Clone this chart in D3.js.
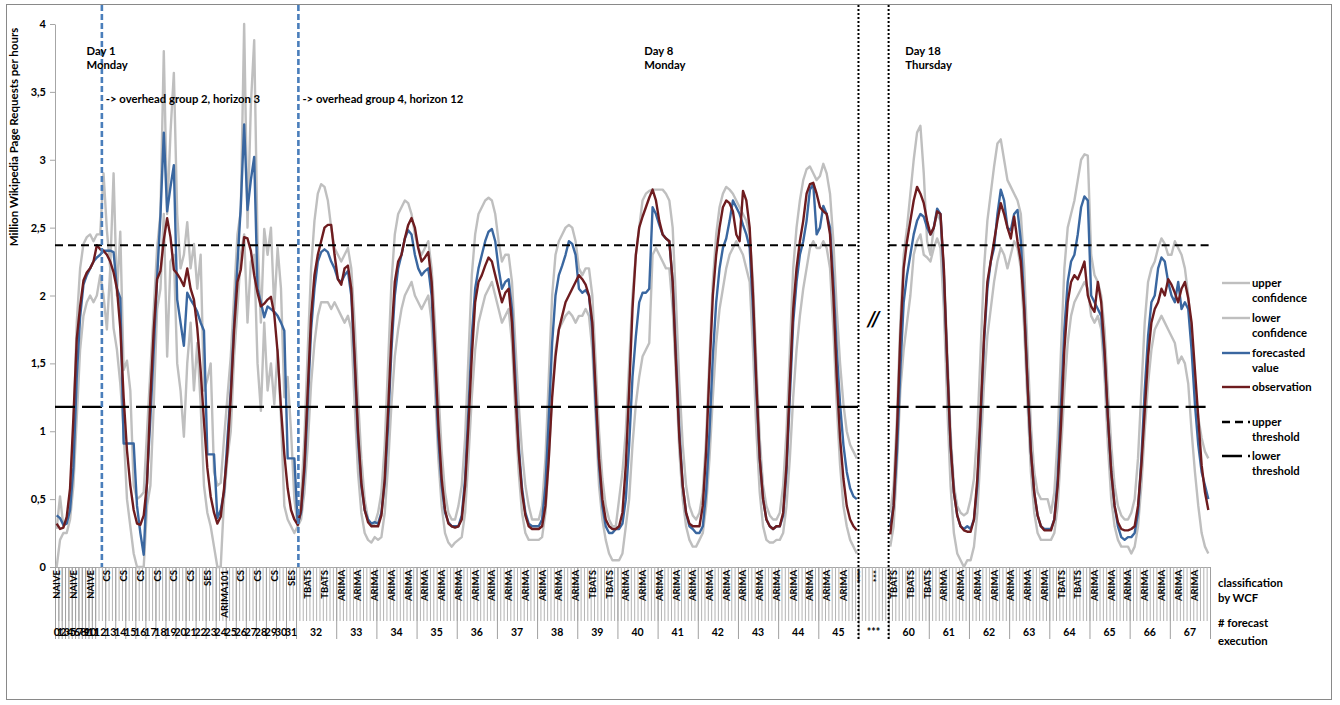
<!DOCTYPE html>
<html>
<head>
<meta charset="utf-8">
<script src="https://cdn.jsdelivr.net/npm/d3@7"></script>
<style>
body { margin: 0; background: #fff; }
svg text { font-family: Lato, "Open Sans", sans-serif; font-weight: bold; fill: #000; }
</style>
</head>
<body>
<svg id="chart" width="1340" height="705"></svg>
<script>
// forecast executions: label, hours covered, classification by WCF
var groupLabels = ['0','1','2','3','4','5','6','7','8','9','10','11',
                   '12','13','14','15','16','17','18','19','20','21','22','23','24','25','26','27','28','29','30','31',
                   '32','33','34','35','36','37','38','39','40','41','42','43','44','45',
                   '***',
                   '60','61','62','63','64','65','66','67'];
var groupSizes = [1,1,1,1,1,1,1,1,1,1,1,1,
                  3,3,3,3,3,3,3,3,3,3,3,3,3,3,3,3,3,3,3,3,
                  12,12,12,12,12,12,12,12,12,12,12,12,12,12,
                  9,
                  12,12,12,12,12,12,12,12];
var groupClass = ['NAIVE','NAIVE','NAIVE','NAIVE','NAIVE','NAIVE','NAIVE','NAIVE','NAIVE','NAIVE','NAIVE','NAIVE',
                  'CS','CS','CS','CS','CS','CS','CS','CS','CS','CS','CS','SES','ARIMA101','CS','CS','CS','CS','CS','CS','SES',
                  'TBATS','ARIMA','ARIMA','ARIMA','ARIMA','ARIMA','ARIMA','TBATS','ARIMA','ARIMA','ARIMA','ARIMA','ARIMA','ARIMA',
                  '***',
                  'TBATS','ARIMA','ARIMA','ARIMA','TBATS','ARIMA','ARIMA','ARIMA'];

var yTicks = [0, 0.5, 1, 1.5, 2, 2.5, 3, 3.5, 4];
var upperThreshold = 2.37;
var lowerThreshold = 1.18;
var gapStart = 240, gapEnd = 249;   // "***" hours without data

// million page requests per hour, one value per hour (null = not shown)
var observation = [
  0.32,0.28,0.29,0.37,0.58,1.1,1.68,1.92,2.11,2.17,2.2,2.25,2.37,2.34,2.33,2.3,2.25,2.17,2.05,1.76,1.25,0.86,0.6,0.42,
  0.32,0.31,0.38,0.62,1.25,1.75,2.12,2.18,2.41,2.57,2.43,2.19,2.16,2.12,2.07,2.2,2.05,1.97,1.76,1.45,1.07,0.73,0.52,0.4,
  0.32,0.37,0.58,0.85,1.25,1.75,2.1,2.19,2.43,2.42,2.33,2.15,2.02,1.92,1.94,1.97,1.99,1.86,1.58,1.17,0.83,0.58,0.42,0.35,
  0.31,0.42,0.75,1.3,1.85,2.15,2.3,2.4,2.5,2.52,2.52,2.3,2.12,2.08,2.2,2.22,2.05,1.55,1.0,0.62,0.42,0.33,0.3,0.3,
  0.3,0.38,0.65,1.15,1.7,2.1,2.25,2.3,2.42,2.52,2.57,2.5,2.35,2.25,2.28,2.32,2.1,1.6,1.05,0.65,0.42,0.32,0.3,0.29,
  0.3,0.35,0.6,1.05,1.55,1.95,2.1,2.15,2.22,2.28,2.25,2.15,2.05,1.95,2.02,2.05,1.8,1.3,0.85,0.55,0.38,0.3,0.28,0.28,
  0.28,0.3,0.45,0.8,1.25,1.55,1.75,1.85,1.95,2.0,2.05,2.1,2.15,2.12,2.08,2.0,1.8,1.3,0.8,0.5,0.35,0.3,0.28,0.28,
  0.3,0.4,0.75,1.3,1.9,2.3,2.5,2.58,2.65,2.72,2.78,2.7,2.55,2.45,2.42,2.4,2.1,1.5,0.95,0.6,0.4,0.32,0.3,0.3,
  0.3,0.45,0.85,1.45,2.0,2.3,2.5,2.65,2.7,2.68,2.62,2.45,2.4,2.77,2.7,2.5,2.0,1.35,0.8,0.5,0.35,0.3,0.28,0.3,
  0.3,0.4,0.75,1.35,1.9,2.2,2.4,2.55,2.75,2.82,2.83,2.75,2.65,2.62,2.6,2.45,2.0,1.4,0.95,0.65,0.45,0.35,0.3,0.27,
  null,null,null,null,null,null,null,null,null,
  0.24,0.45,1.0,1.7,2.2,2.4,2.55,2.7,2.8,2.75,2.68,2.55,2.45,2.5,2.62,2.6,2.2,1.5,0.9,0.55,0.38,0.3,0.27,0.26,
  0.26,0.35,0.65,1.15,1.7,2.1,2.25,2.4,2.55,2.68,2.6,2.5,2.42,2.58,2.4,2.25,1.9,1.35,0.85,0.55,0.38,0.3,0.27,0.27,
  0.27,0.35,0.6,1.05,1.6,1.95,2.1,2.15,2.12,2.18,2.25,2.0,1.92,1.88,2.1,1.95,1.6,1.1,0.7,0.45,0.33,0.28,0.27,0.27,
  0.28,0.3,0.45,0.75,1.15,1.55,1.8,1.9,1.95,2.05,2.0,2.12,2.08,2.02,1.95,2.05,2.1,1.98,1.8,1.45,1.1,0.75,0.55,0.42
];
var forecast = [
  0.38,0.36,0.31,0.32,0.42,0.73,1.4,1.84,2.08,2.15,2.2,2.25,2.28,2.3,2.33,2.33,2.33,2.32,2.05,1.98,0.91,0.91,0.91,0.91,
  0.45,0.25,0.09,0.65,1.1,1.6,2.13,2.59,3.2,2.62,2.8,2.96,1.97,1.8,1.63,2.02,1.97,1.93,1.88,1.8,1.74,0.83,0.83,0.83,
  0.36,0.42,0.55,0.94,1.3,1.79,2.23,2.66,3.26,2.63,2.85,3.02,2.05,1.95,1.84,1.92,1.9,1.88,1.85,1.8,1.74,0.8,0.8,0.8,
  0.32,0.4,0.7,1.2,1.75,2.05,2.25,2.32,2.34,2.32,2.25,2.2,2.12,2.1,2.15,2.18,2.0,1.5,0.95,0.6,0.42,0.35,0.32,0.33,
  0.32,0.4,0.62,1.05,1.6,2.0,2.2,2.3,2.42,2.48,2.45,2.3,2.2,2.15,2.18,2.2,2.0,1.5,0.95,0.6,0.4,0.33,0.3,0.3,
  0.3,0.38,0.65,1.15,1.7,2.05,2.2,2.3,2.4,2.47,2.49,2.4,2.2,2.05,2.1,2.12,1.9,1.4,0.9,0.58,0.4,0.32,0.3,0.3,
  0.3,0.35,0.6,1.1,1.65,2.0,2.15,2.22,2.3,2.4,2.38,2.3,2.05,2.02,2.04,2.0,1.75,1.2,0.75,0.45,0.3,0.25,0.25,0.28,
  0.28,0.32,0.5,0.9,1.4,1.7,1.95,2.02,2.02,2.05,2.65,2.6,2.52,2.45,2.42,2.4,2.1,1.55,1.0,0.6,0.4,0.3,0.28,0.25,
  0.25,0.3,0.55,1.0,1.55,1.95,2.2,2.35,2.42,2.55,2.7,2.65,2.6,2.52,2.45,2.35,1.9,1.3,0.8,0.5,0.35,0.3,0.28,0.3,
  0.3,0.38,0.7,1.25,1.8,2.1,2.3,2.4,2.55,2.78,2.82,2.45,2.5,2.66,2.6,2.5,2.1,1.6,1.2,0.9,0.7,0.58,0.52,0.5,
  null,null,null,null,null,null,null,null,null,
  0.3,0.45,0.85,1.45,1.95,2.15,2.3,2.45,2.55,2.6,2.58,2.5,2.45,2.5,2.64,2.6,2.15,1.5,0.9,0.55,0.38,0.3,0.28,0.3,
  0.28,0.35,0.6,1.1,1.65,2.05,2.25,2.35,2.6,2.78,2.7,2.5,2.48,2.6,2.63,2.4,1.95,1.35,0.85,0.55,0.38,0.3,0.28,0.28,
  0.28,0.35,0.65,1.2,1.75,2.1,2.25,2.3,2.45,2.65,2.73,2.7,2.0,1.95,1.9,1.85,1.55,1.1,0.7,0.45,0.3,0.22,0.2,0.22,
  0.22,0.25,0.4,0.8,1.3,1.7,1.95,2.0,2.2,2.28,2.25,2.1,2.0,1.95,2.1,1.9,1.95,1.9,1.6,1.2,0.9,0.7,0.6,0.5
];
var upperConf = [
  0.28,0.52,0.3,0.33,0.5,1.0,1.8,2.2,2.38,2.43,2.45,2.4,2.45,2.45,2.9,2.48,2.2,2.9,2.0,2.47,1.45,1.52,1.3,0.6,
  0.5,0.52,0.55,1.0,1.45,1.9,2.35,2.6,3.8,2.6,3.2,3.64,2.6,2.2,2.3,2.54,2.2,2.38,2.05,2.3,1.3,1.38,1.5,0.7,
  0.6,0.62,0.95,1.25,1.55,2.0,2.45,2.62,4.0,2.5,3.4,3.88,2.4,1.8,2.49,2.3,2.5,1.9,2.35,2.05,1.25,1.4,1.0,0.5,
  0.3,0.5,0.95,1.6,2.2,2.55,2.75,2.82,2.8,2.7,2.5,2.35,2.3,2.25,2.3,2.35,2.2,1.8,1.25,0.8,0.5,0.35,0.3,0.32,
  0.4,0.55,0.9,1.5,2.1,2.45,2.6,2.65,2.7,2.68,2.6,2.45,2.35,2.3,2.35,2.4,2.2,1.8,1.3,0.85,0.55,0.4,0.35,0.35,
  0.45,0.6,0.95,1.55,2.15,2.45,2.6,2.65,2.7,2.72,2.7,2.6,2.4,2.25,2.3,2.3,2.1,1.65,1.2,0.85,0.6,0.45,0.35,0.35,
  0.35,0.45,0.8,1.4,2.0,2.3,2.4,2.45,2.5,2.52,2.5,2.4,2.2,2.15,2.2,2.2,2.0,1.5,1.0,0.65,0.45,0.35,0.3,0.3,
  0.5,0.7,1.0,1.5,2.0,2.3,2.5,2.7,2.75,2.77,2.78,2.78,2.78,2.78,2.75,2.7,2.5,1.95,1.35,0.9,0.6,0.45,0.38,0.35,
  0.4,0.55,0.95,1.55,2.1,2.45,2.65,2.75,2.8,2.78,2.75,2.7,2.65,2.6,2.55,2.45,2.1,1.5,0.95,0.6,0.45,0.38,0.35,0.35,
  0.4,0.6,1.0,1.6,2.2,2.5,2.7,2.85,2.93,2.95,2.9,2.85,2.88,2.97,2.9,2.75,2.4,1.9,1.5,1.2,1.0,0.9,0.85,0.8,
  null,null,null,null,null,null,null,null,null,
  0.4,0.6,1.1,1.8,2.3,2.5,2.75,3.0,3.2,3.25,2.9,2.4,2.3,2.5,2.6,2.55,2.2,1.6,1.0,0.6,0.45,0.4,0.38,0.4,
  0.5,0.65,1.0,1.6,2.2,2.55,2.75,2.95,3.12,3.15,3.0,2.85,2.8,2.75,2.7,2.6,2.2,1.6,1.05,0.7,0.55,0.5,0.5,0.5,
  0.4,0.55,0.95,1.6,2.2,2.5,2.6,2.7,2.85,3.0,3.04,3.03,2.3,2.15,2.1,2.0,1.75,1.3,0.9,0.6,0.45,0.38,0.35,0.35,
  0.4,0.5,0.8,1.3,1.8,2.1,2.2,2.25,2.35,2.42,2.38,2.3,2.3,2.4,2.35,2.3,2.2,2.0,1.7,1.35,1.1,0.95,0.85,0.8
];
var lowerConf = [
  0.0,0.2,0.25,0.25,0.35,0.6,1.1,1.6,1.85,1.95,2.0,1.95,2.0,2.15,2.0,1.75,2.2,1.76,1.6,1.35,1.0,0.5,0.3,0.1,
  0.0,0.0,0.0,0.45,0.6,1.2,1.9,2.05,2.6,1.55,2.25,2.3,1.5,1.3,0.96,1.5,1.8,1.3,1.65,1.2,0.6,0.4,0.3,0.15,
  0.0,0.0,0.5,0.8,1.0,1.55,1.9,2.3,2.45,1.8,2.25,2.3,1.5,1.15,1.8,1.3,1.5,1.2,1.6,1.1,0.45,0.35,0.3,0.25,
  0.3,0.35,0.55,0.9,1.35,1.65,1.85,1.95,1.95,1.95,1.9,1.95,1.9,1.85,1.8,1.85,1.75,1.2,0.7,0.4,0.25,0.2,0.18,0.22,
  0.2,0.22,0.4,0.75,1.2,1.55,1.75,1.9,2.0,2.05,2.1,2.0,1.95,1.9,1.95,2.0,1.8,1.3,0.8,0.45,0.25,0.18,0.15,0.18,
  0.2,0.22,0.4,0.8,1.25,1.6,1.8,1.9,2.0,2.05,2.1,2.0,1.9,1.8,1.85,1.9,1.65,1.15,0.7,0.4,0.25,0.2,0.2,0.2,
  0.2,0.22,0.4,0.8,1.3,1.6,1.75,1.8,1.85,1.88,1.85,1.8,1.85,1.85,1.9,1.85,1.6,1.1,0.6,0.35,0.2,0.1,0.05,0.05,
  0.05,0.1,0.3,0.5,0.9,1.2,1.4,1.55,1.6,1.65,2.3,2.35,2.3,2.25,2.2,2.2,1.9,1.4,0.85,0.5,0.3,0.2,0.15,0.15,
  0.2,0.25,0.45,0.8,1.25,1.65,1.9,2.05,2.2,2.3,2.35,2.4,2.35,2.3,2.2,2.1,1.6,1.0,0.55,0.3,0.2,0.18,0.18,0.2,
  0.2,0.25,0.45,0.8,1.25,1.6,1.85,2.05,2.2,2.35,2.4,2.35,2.35,2.4,2.35,2.2,1.75,1.2,0.75,0.45,0.3,0.2,0.15,0.1,
  null,null,null,null,null,null,null,null,null,
  0.15,0.3,0.75,1.3,1.6,1.8,2.0,2.3,2.4,2.45,2.3,2.28,2.25,2.35,2.42,2.35,1.9,1.2,0.6,0.25,0.1,0.05,0.0,0.05,
  0.05,0.15,0.4,0.85,1.35,1.7,1.9,2.1,2.25,2.35,2.3,2.2,2.3,2.4,2.35,2.2,1.75,1.2,0.7,0.4,0.25,0.2,0.2,0.2,
  0.2,0.25,0.45,0.85,1.3,1.65,1.85,1.95,2.0,2.05,2.1,2.05,1.85,1.8,1.85,1.75,1.4,0.9,0.5,0.3,0.2,0.15,0.15,0.15,
  0.1,0.15,0.3,0.6,1.0,1.35,1.6,1.75,1.8,1.85,1.8,1.75,1.7,1.65,1.5,1.55,1.5,1.35,1.0,0.7,0.45,0.25,0.15,0.1
];

// vertical markers (hour positions) and notes
var horizonMarks = [{at: 14, text: '-> overhead group 2, horizon 3'},
                    {at: 72.7, text: '-> overhead group 4, horizon 12'}];
var dayNotes = [{at: 9.4, lines: ['Day 1', 'Monday']},
                {at: 176, lines: ['Day 8', 'Monday']},
                {at: 254, lines: ['Day 18', 'Thursday']}];

var N = d3.sum(groupSizes);
var x = d3.scaleLinear().domain([0, N]).range([55, 1210]);
var y = d3.scaleLinear().domain([0, 4]).range([567, 24]);

var svg = d3.select('#chart');
svg.append('rect')
    .attr('x', 6.5).attr('y', 4.5).attr('width', 1325).attr('height', 695)
    .attr('fill', 'none').attr('stroke', '#898989');

// y axis
var comma = d3.formatLocale({decimal: ',', thousands: '.', grouping: [3], currency: ['', '']}).format('~g');
var yAxis = svg.append('g')
    .attr('transform', 'translate(55,0)')
    .call(d3.axisLeft(y).tickValues(yTicks).tickSize(5).tickSizeOuter(0).tickFormat(comma));
yAxis.attr('font-family', null).attr('font-size', null);
yAxis.select('.domain').attr('stroke', '#a6a6a6');
yAxis.selectAll('.tick line').attr('stroke', '#a6a6a6');
yAxis.selectAll('.tick text').attr('font-size', 11).attr('x', -9);

svg.append('text')
    .attr('transform', 'translate(18,137) rotate(-90)')
    .attr('text-anchor', 'middle')
    .attr('font-size', 11.5)
    .text('Million Wikipedia Page Requests per hours');

// x axis: one tick per hour, long ticks between executions
var edges = [0].concat(Array.from(d3.cumsum(groupSizes)));
var xAxis = svg.append('g')
    .attr('transform', 'translate(0,567)')
    .call(d3.axisBottom(x).tickValues(d3.range(N + 1)).tickSize(54).tickSizeOuter(0).tickFormat(''));
xAxis.selectAll('.tick line').attr('stroke', '#b3b3b3');
xAxis.select('.domain').attr('stroke', '#a6a6a6');

var xGroups = svg.append('g')
    .attr('transform', 'translate(0,567)')
    .call(d3.axisBottom(x).tickValues(edges).tickSize(72).tickSizeOuter(0).tickFormat(''));
xGroups.selectAll('.tick line').attr('stroke', '#a0a0a0');
xGroups.select('.domain').remove();

var hourClass = [];
groupSizes.forEach(function(s, g) {
    for (var k = 0; k < s; k++) hourClass.push(groupClass[g]);
});

svg.append('g').selectAll('text')
    .data(d3.range(0, N, 5))
    .join('text')
    .attr('transform', function(i) { return 'translate(' + (x(i + 0.5) + 3.5) + ',570) rotate(-90)'; })
    .attr('text-anchor', 'end')
    .attr('font-size', 9.5)
    .text(function(i) { return hourClass[i]; });

svg.append('g').selectAll('text')
    .data(groupLabels)
    .join('text')
    .attr('x', function(d, g) { return x((edges[g] + edges[g + 1]) / 2); })
    .attr('y', 636)
    .attr('text-anchor', 'middle')
    .attr('font-size', 10.5)
    .text(function(d) { return d; });

// series
function seriesLine(values) {
    return d3.line()
        .defined(function(d) { return d != null; })
        .x(function(d, i) { return x(i + 0.5); })
        .y(function(d) { return y(d); })(values);
}
var series = [
    {values: upperConf,   color: '#bfbfbf'},
    {values: lowerConf,   color: '#bfbfbf'},
    {values: forecast,    color: '#3a67a0'},
    {values: observation, color: '#6e1c1f'}
];
svg.append('g').selectAll('path')
    .data(series)
    .join('path')
    .attr('d', function(d) { return seriesLine(d.values); })
    .attr('fill', 'none')
    .attr('stroke', function(d) { return d.color; })
    .attr('stroke-width', 2.4)
    .attr('stroke-linejoin', 'round');

// thresholds, broken over the gap
var thresholds = [{value: upperThreshold, dash: '8,5'}, {value: lowerThreshold, dash: '20,7'}];
thresholds.forEach(function(t) {
    [[0, gapStart], [gapEnd, N]].forEach(function(span) {
        svg.append('line')
            .attr('x1', x(span[0])).attr('x2', x(span[1]))
            .attr('y1', y(t.value)).attr('y2', y(t.value))
            .attr('stroke', '#000').attr('stroke-width', 2.2)
            .attr('stroke-dasharray', t.dash);
    });
});

// gap borders
[gapStart, gapEnd].forEach(function(h) {
    svg.append('line')
        .attr('x1', x(h)).attr('x2', x(h)).attr('y1', 5).attr('y2', 640)
        .attr('stroke', '#000').attr('stroke-width', 2).attr('stroke-dasharray', '2,2');
});
svg.append('text')
    .attr('x', x((gapStart + gapEnd) / 2)).attr('y', 326)
    .attr('text-anchor', 'middle').attr('font-size', 21).attr('font-style', 'italic')
    .text('//');

// horizon change markers
horizonMarks.forEach(function(m) {
    svg.append('line')
        .attr('x1', x(m.at)).attr('x2', x(m.at)).attr('y1', 5).attr('y2', 567)
        .attr('stroke', '#4a7ebb').attr('stroke-width', 2.6).attr('stroke-dasharray', '6,3');
    svg.append('text')
        .attr('x', x(m.at) + 4).attr('y', 103)
        .attr('font-size', 11.3)
        .text(m.text);
});

dayNotes.forEach(function(n) {
    var t = svg.append('text').attr('font-size', 11.3);
    n.lines.forEach(function(l, k) {
        t.append('tspan').attr('x', x(n.at)).attr('y', 55 + k * 14).text(l);
    });
});

// legend
var legend = [
    {lines: ['upper', 'confidence'], color: '#bfbfbf', dash: null, y: 283},
    {lines: ['lower', 'confidence'], color: '#bfbfbf', dash: null, y: 318},
    {lines: ['forecasted', 'value'], color: '#3a67a0', dash: null, y: 353},
    {lines: ['observation'], color: '#6e1c1f', dash: null, y: 387},
    {lines: ['upper', 'threshold'], color: '#000', dash: '8,5', y: 422},
    {lines: ['lower', 'threshold'], color: '#000', dash: '20,6', y: 456}
];
var lg = svg.append('g');
legend.forEach(function(d) {
    lg.append('line')
        .attr('x1', 1222).attr('x2', 1250).attr('y1', d.y).attr('y2', d.y)
        .attr('stroke', d.color).attr('stroke-width', 2.4)
        .attr('stroke-dasharray', d.dash);
    var t = lg.append('text').attr('font-size', 11.3);
    d.lines.forEach(function(l, k) {
        t.append('tspan').attr('x', 1252).attr('y', d.y + 4 + k * 15).text(l);
    });
});

var side = svg.append('g');
[['classification', 587], ['by WCF', 602], ['# forecast', 627], ['execution', 645]].forEach(function(d) {
    side.append('text').attr('x', 1218).attr('y', d[1]).attr('font-size', 11.3).text(d[0]);
});
</script>
</body>
</html>
